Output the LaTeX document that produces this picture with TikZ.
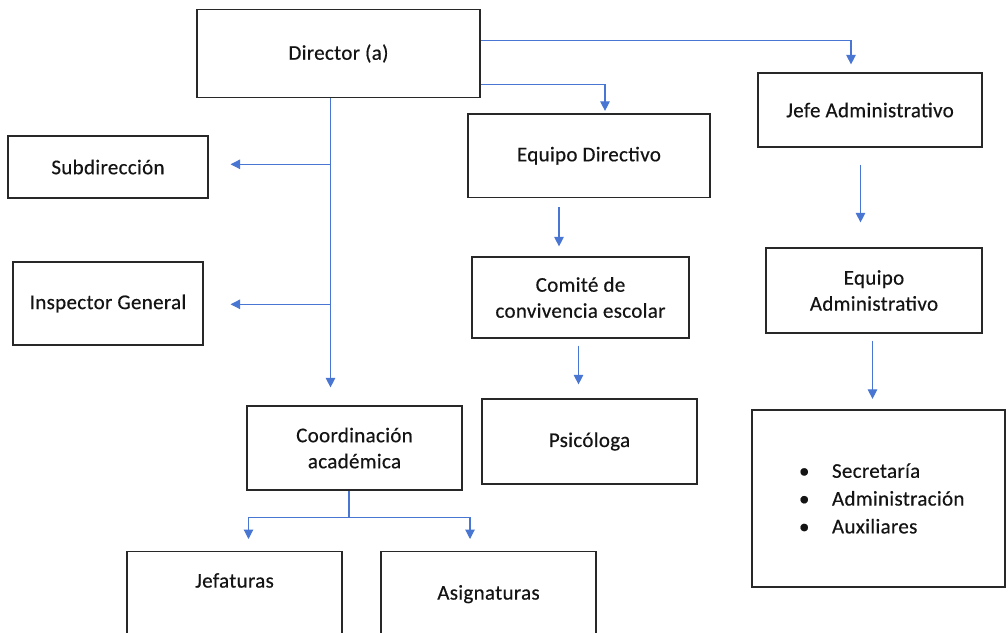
\documentclass[tikz,border=0pt]{standalone}
\usepackage{fontspec}
\setmainfont[LetterSpace=1.5, FakeBold=0.4]{Carlito}
\usetikzlibrary{arrows.meta,calc}
\definecolor{conn}{RGB}{72,118,210}
\definecolor{boxline}{RGB}{40,40,40}
\definecolor{txt}{RGB}{20,20,20}
\tikzset{
  box/.style={draw=boxline, line width=1.2pt, rectangle, inner sep=0pt, align=center,
    text=txt, font=\fontsize{21}{26}\selectfont},
  arr/.style={draw=conn, line width=1.1pt, -{Triangle[width=9.5pt,length=9.5pt]}},
  ln/.style={draw=conn, line width=1.1pt}
}
\begin{document}
\begin{tikzpicture}[x=1pt,y=-1pt]
\useasboundingbox (0,0) rectangle (1008,632);
\clip (0,0) rectangle (1008,632);
\fill[white] (0,0) rectangle (1008,632);
% boxes
\node[box, minimum width=283pt, minimum height=88pt] (dir) at (338.5,53.5) {Director (a)};
\node[box, minimum width=200pt, minimum height=62pt] (sub) at (108,167) {Subdirección};
\node[box, minimum width=190pt, minimum height=83pt] (insp) at (108,303.5) {Inspector General};
\node[box, minimum width=215pt, minimum height=84pt] (coord) at (354.5,448) {Coordinación\\académica};
\node[box, minimum width=215pt, anchor=north, text height=36pt, text depth=100pt] (jef) at (234.5,551) {Jefaturas};
\node[box, minimum width=215pt, anchor=north, text height=48pt, text depth=100pt] (asig) at (488.5,551) {Asignaturas};
\node[box, minimum width=242pt, minimum height=83.5pt] (eqdir) at (589,155.75) {Equipo Directivo};
\node[box, minimum width=217pt, minimum height=81pt] (comite) at (580.5,297.5) {Comité de\\convivencia escolar};
\node[box, minimum width=215pt, minimum height=85pt] (psic) at (589.5,441.5) {Psicóloga};
\node[box, minimum width=224pt, minimum height=74pt] (jefe) at (870,110) {Jefe Administrativo};
\node[box, minimum width=216pt, minimum height=85pt] (eqadm) at (874,290.5) {Equipo\\Administrativo};
\node[box, minimum width=253pt, minimum height=177pt, text width=157pt, align=left] (lista) at (878.5,498.5)
  {\makebox[32pt][l]{\hspace{-1pt}•}Secretaría\\[1.8pt]\makebox[32pt][l]{\hspace{-1pt}•}Administración\\[1.8pt]\makebox[32pt][l]{\hspace{-1pt}•}Auxiliares};
% connectors from Director
\draw[arr] ([yshift=-31.5pt]dir.north east) -| ([xshift=-19pt,yshift=8pt]jefe.north);
\draw[arr] ([yshift=-75.5pt]dir.north east) -| ([xshift=16pt,yshift=2.5pt]eqdir.north);
\draw[arr] ([xshift=-8pt]dir.south) -- ([xshift=-24pt,yshift=18pt]coord.north);
\draw[arr] ([xshift=122.5pt,yshift=2.7pt]sub.east) -- ([xshift=22pt,yshift=2.7pt]sub.east);
\draw[arr] ([xshift=127.5pt,yshift=-0.8pt]insp.east) -- ([xshift=27pt,yshift=-0.8pt]insp.east);
% Coordinación branches
\coordinate (cj) at ([xshift=-5.5pt,yshift=-26.7pt]coord.south);
\draw[ln] ([xshift=-5.5pt]coord.south) -- (cj);
\draw[arr] (cj) -| ([xshift=14pt,yshift=12pt]jef.north);
\draw[arr] (cj) -| ([xshift=-18.5pt,yshift=12pt]asig.north);
% middle column
\draw[arr] ([xshift=-30pt,yshift=-9pt]eqdir.south) -- ([xshift=-21.5pt,yshift=10pt]comite.north);
\draw[arr] ([xshift=-2pt,yshift=-7pt]comite.south) -- ([xshift=-11pt,yshift=14pt]psic.north);
% right column
\draw[arr] ([xshift=-9.5pt,yshift=-17pt]jefe.south) -- ([xshift=-13.5pt,yshift=25pt]eqadm.north);
\draw[arr] ([xshift=-1.5pt,yshift=-7pt]eqadm.south) -- ([xshift=-6pt,yshift=10.5pt]lista.north);
\end{tikzpicture}
\end{document}
